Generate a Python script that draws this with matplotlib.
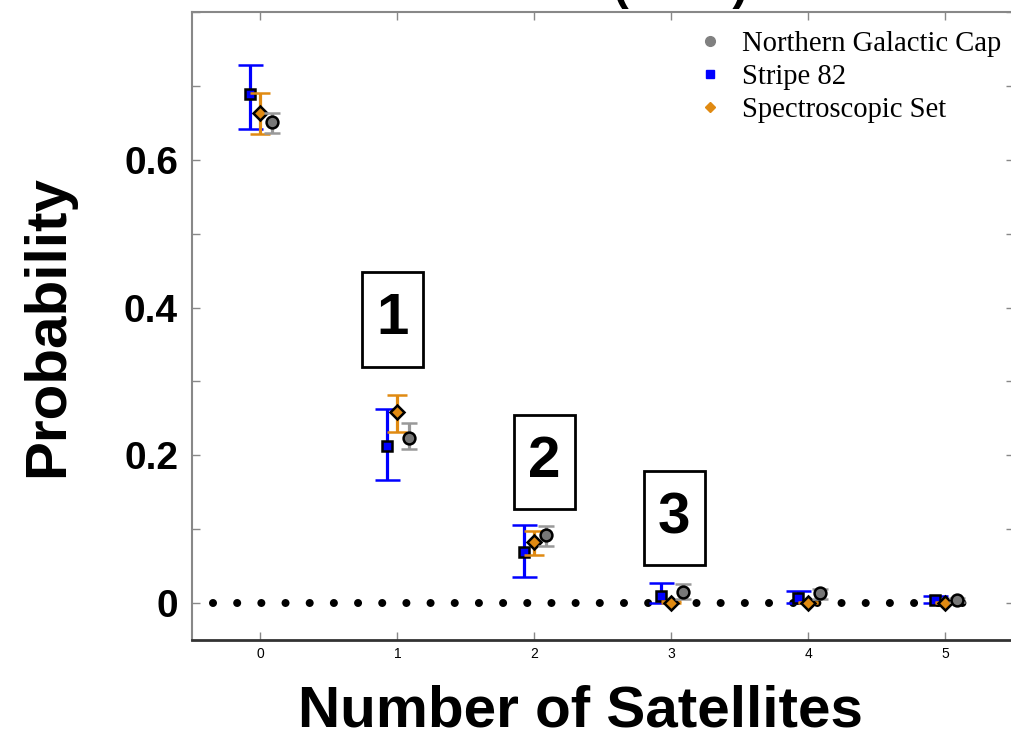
import numpy as np
import matplotlib
matplotlib.use("Agg")
import matplotlib.pyplot as plt
import matplotlib.transforms as mtransforms
from matplotlib.lines import Line2D
from matplotlib.patches import Rectangle
from matplotlib.ticker import MultipleLocator

plt.rcParams['font.family'] = ['Liberation Sans', 'DejaVu Sans']

# satellite counts and probabilities
n_sat = np.array([0, 1, 2, 3, 4, 5])

stripe82 = np.array([0.689, 0.213, 0.069, 0.010, 0.007, 0.004])
stripe82_lo = np.array([0.642, 0.166, 0.035, 0.0, 0.0, 0.0])
stripe82_hi = np.array([0.728, 0.263, 0.105, 0.027, 0.016, 0.010])

spec = np.array([0.663, 0.258, 0.082, 0.0, 0.0, 0.0])
spec_lo = np.array([0.635, 0.231, 0.065, 0.0, 0.0, 0.0])
spec_hi = np.array([0.690, 0.282, 0.098, 0.003, 0.002, 0.002])

ngc = np.array([0.651, 0.224, 0.092, 0.015, 0.013, 0.004])
ngc_lo = np.array([0.636, 0.209, 0.077, 0.005, 0.005, 0.001])
ngc_hi = np.array([0.663, 0.244, 0.104, 0.026, 0.019, 0.007])

series_names = ['Northern Galactic Cap', 'Stripe 82', 'Spectroscopic Set']

box_labels = ['1', '2', '3']
box_x = [0.965, 2.07, 3.02]
box_y = [0.384, 0.191, 0.115]

dot_x = [-0.35, 5.25]
dot_y = [0, 0]

blue = '#0000ff'
orange = '#e08a12'
grey = '#808080'

fig = plt.figure(figsize=(10.12, 7.31), dpi=100)
ax = fig.add_axes([192/1012, 91/731, 822/1012, 628/731])

# dotted zero line made of big round dots
ax.plot(dot_x, dot_y, color='black', lw=5.8, ls=(0, (0.001, 3.0)),
        dash_capstyle='round', zorder=1)

# stripe 82 (blue squares)
ax.errorbar(n_sat - 0.08, stripe82, yerr=[stripe82 - stripe82_lo, stripe82_hi - stripe82],
            fmt='s', ms=7, mfc=blue, mec='black', mew=1.8,
            ecolor=blue, elinewidth=2.3, capsize=9, capthick=2.3, zorder=3)

# spectroscopic set (orange diamonds)
ax.errorbar(n_sat, spec, yerr=[spec - spec_lo, spec_hi - spec],
            fmt='D', ms=6.8, mfc=orange, mec='black', mew=1.8,
            ecolor=orange, elinewidth=2.3, capsize=7, capthick=2.3, zorder=4)

# northern galactic cap (grey circles)
ax.errorbar(n_sat + 0.085, ngc, yerr=[ngc - ngc_lo, ngc_hi - ngc],
            fmt='o', ms=8.5, mfc='#777777', mec='black', mew=1.8,
            ecolor='#999999', elinewidth=2.3, capsize=6, capthick=2.3, zorder=5)

# numbered boxes: fixed-size frame (in points) around each big digit
for lab, bx, by in zip(box_labels, box_x, box_y):
    trans = mtransforms.Affine2D().scale(fig.dpi / 72.0) + \
        mtransforms.ScaledTranslation(bx, by, ax.transData)
    ax.add_patch(Rectangle((-22, -34), 44, 68, transform=trans, fc='white',
                           ec='black', lw=2, zorder=6))
    ax.text(bx, by, lab, ha='center', va='center', fontsize=42,
            fontweight='bold', zorder=7)

ax.set_xlim(-0.5, 5.5)
ax.set_ylim(-0.05, 0.8)

ax.set_xticks(n_sat)
ax.set_xticklabels([str(n) for n in n_sat], fontsize=10)
ax.set_yticks([0, 0.2, 0.4, 0.6])
ax.set_yticklabels(['0', '0.2', '0.4', '0.6'], fontsize=28, fontweight='bold')
ax.yaxis.set_minor_locator(MultipleLocator(0.1))

ax.tick_params(which='both', direction='in', top=True, right=True,
               length=6, width=1, color='#888888')
ax.tick_params(axis='y', which='major', pad=10)
ax.tick_params(axis='x', pad=5)

for side in ['left', 'top', 'right']:
    ax.spines[side].set_color('#888888')
    ax.spines[side].set_linewidth(1.5)
ax.spines['bottom'].set_color('#333333')
ax.spines['bottom'].set_linewidth(2)

ax.set_xlabel('Number of Satellites', fontsize=42, fontweight='bold')
ax.set_ylabel('Probability', fontsize=42, fontweight='bold')
ax.xaxis.set_label_coords(0.473, -0.071)
ax.yaxis.set_label_coords(-0.142, 0.5)

# legend with plain markers
handles = [
    Line2D([], [], ls='none', marker='o', ms=7, color=grey),
    Line2D([], [], ls='none', marker='s', ms=5.5, color=blue),
    Line2D([], [], ls='none', marker='D', ms=5, color=orange),
]
ax.legend(handles, series_names, loc='upper left', bbox_to_anchor=(0.613, 0.969),
          frameon=False, borderpad=0, borderaxespad=0, handlelength=1.0,
          handletextpad=0.62, labelspacing=0.24,
          prop={'family': 'Liberation Serif', 'size': 20.6})

# title is cut off at the top of the image
fig.text(0.673, 1.0 + 1/731, '(NGC)', ha='center', va='baseline',
         fontsize=34, fontweight='bold')

fig.savefig('out.png', dpi=100)
